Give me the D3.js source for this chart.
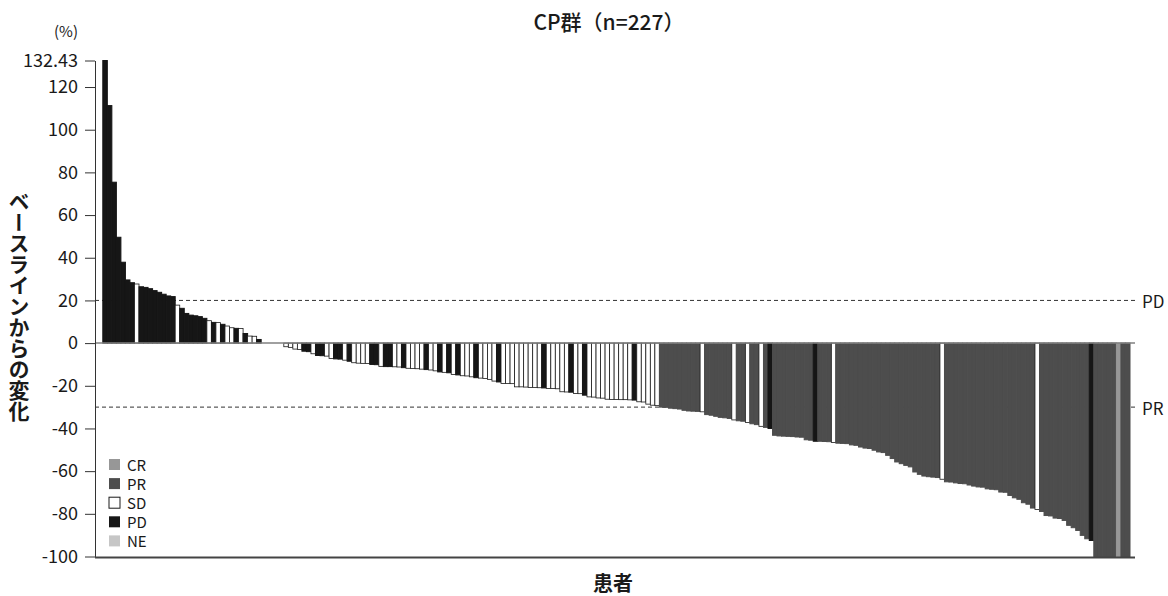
<!DOCTYPE html>
<html>
<head>
<meta charset="utf-8">
<script src="https://cdn.jsdelivr.net/npm/d3@7"></script>
<style>
  body { margin: 0; background: #ffffff; }
  svg text { font-family: "Noto Sans CJK JP", "Noto Sans", sans-serif; fill: #1a1a1a; }
</style>
</head>
<body>
<svg id="chart" width="1168" height="596"></svg>
<script>
// ---- data -------------------------------------------------------------
const chartTitle = "CP群（n=227）";
const yAxisTitle = "ベースラインからの変化";
const xAxisTitle = "患者";
const unitLabel = "(%)";

const yTickValues = [132.43, 120, 100, 80, 60, 40, 20, 0, -20, -40, -60, -80, -100];
const yTickLabels = ["132.43", "120", "100", "80", "60", "40", "20", "0", "-20", "-40", "-60", "-80", "-100"];

const legendCodes  = ["CR", "PR", "SD", "PD", "NE"];
const legendColors = ["#979797", "#4d4d4d", "#ffffff", "#161616", "#c6c6c6"];

const thresholdValues = [20, -30];
const thresholdLabels = ["PD", "PR"];

// best change from baseline in target lesions (%), one value per patient, sorted
const changeValues = [
  132.43, 111.3, 75.4, 49.6, 37.9, 29.6, 28.3, 27.7, 26.4, 26.1,
  25.5, 24.6, 23.8, 22.9, 22.1, 21.8, 17.8, 16.3, 13.9, 13.1,
  12.8, 12.4, 11.6, 10.5, 9.7, 9.6, 8.8, 8.0, 7.2, 6.9,
  6.8, 4.5, 3.3, 3.2, 1.7, 0, 0, 0, 0, 0,
  -1.7, -2.0, -2.8, -3.0, -3.8, -4.0, -5.0, -5.8, -5.9, -6.1,
  -7.2, -7.4, -7.5, -8.0, -8.5, -9.2, -9.4, -9.5, -9.6, -10.0,
  -10.1, -10.9, -11.0, -11.0, -11.1, -11.2, -11.5, -11.8, -11.9, -12.0,
  -12.2, -12.4, -12.6, -13.0, -13.5, -13.7, -13.9, -14.7, -14.9, -15.3,
  -15.4, -15.8, -16.2, -16.4, -16.6, -17.0, -17.8, -18.2, -18.9, -18.9,
  -19.0, -20.5, -20.5, -20.6, -20.8, -20.8, -20.9, -21.0, -21.3, -21.3,
  -21.4, -22.8, -22.9, -23.0, -23.6, -23.7, -24.4, -25.2, -25.3, -25.7,
  -25.8, -26.3, -26.4, -26.4, -26.5, -26.5, -26.6, -26.7, -27.5, -27.6,
  -28.6, -29.1, -29.3, -30.0, -30.1, -30.5, -30.7, -30.9, -31.5, -31.8,
  -31.9, -32.0, -32.2, -33.5, -33.8, -34.3, -34.8, -35.0, -35.3, -36.0,
  -36.4, -36.6, -37.2, -37.8, -38.2, -39.0, -39.5, -40.0, -43.2, -43.5,
  -43.6, -43.7, -43.8, -44.0, -44.1, -45.3, -45.5, -46.0, -46.0, -46.1,
  -46.2, -46.6, -46.9, -47.0, -47.1, -47.7, -47.9, -48.7, -49.2, -49.4,
  -50.2, -51.0, -51.3, -52.6, -54.1, -55.7, -56.5, -57.3, -58.0, -60.4,
  -61.5, -62.3, -62.6, -62.8, -63.0, -63.8, -65.0, -65.1, -65.5, -65.8,
  -65.9, -66.5, -67.0, -67.4, -67.5, -68.3, -68.5, -68.7, -69.8, -69.9,
  -71.4, -72.5, -73.2, -74.8, -75.5, -77.3, -78.0, -78.9, -80.8, -81.0,
  -82.0, -82.2, -83.1, -85.4, -86.5, -87.8, -90.1, -91.7, -92.5, -100,
  -100, -100, -100, -100, -100, -100, -100
];

// best overall response per patient: C=CR, R=PR, S=SD, P=PD, N=NE (10 per row)
const responseRows = [
  "PPPPPPPSPP", "PPPPPPSPPP", "PPPSPSPSSP", "SPSSPSSSSS",
  "SSSSPPSPPS", "SPPSPSSSSP", "PSPPSSPSSS", "SPSSPSPSPS",
  "SSPSSSSPSS", "SSSSSSSPSS", "SSSPSSPSSS", "SSSSSSSPSS",
  "SSSRRRRRRR", "RRSRRRRRRS", "RRSRRSRPRR", "RRRRRRRPRR",
  "RSRRRRRRRR", "RRRRRRRRRR", "RRRRRSRRRR", "RRRRRRRRRR",
  "RRRRRRSRRR", "RRRRRRRRPR", "RRRRCRR"
];
const codeToResponse = { C: "CR", R: "PR", S: "SD", P: "PD", N: "NE" };
const responses = responseRows.join("").split("").map(c => codeToResponse[c]);

// ---- drawing ----------------------------------------------------------
const svg = d3.select("#chart");
const plotLeft = 95, plotRight = 1136;
const patients = d3.range(changeValues.length);

const color = d3.scaleOrdinal().domain(legendCodes).range(legendColors);

const x = d3.scaleBand().domain(patients).range([102.8, 1130]).padding(0);
const y = d3.scaleLinear().domain([-100, 132.43]).range([556.5, 60.5]);

// threshold reference lines (behind the bars)
svg.append("g").selectAll("line")
  .data(thresholdValues)
  .join("line")
  .attr("x1", plotLeft).attr("x2", plotRight)
  .attr("y1", d => y(d)).attr("y2", d => y(d))
  .attr("stroke", "#333").attr("stroke-width", 1)
  .attr("stroke-dasharray", "4,3");

svg.append("g").selectAll("text")
  .data(thresholdValues)
  .join("text")
  .attr("x", 1142).attr("y", d => y(d))
  .attr("dominant-baseline", "central")
  .attr("font-size", 17)
  .text((d, i) => thresholdLabels[i]);

// bars: filled bars get an outline in their own colour so neighbours merge,
// SD bars are white with a dark outline
const data = patients.map(i => ({ i, v: changeValues[i], r: responses[i] }));
svg.append("g").selectAll("rect")
  .data(data)
  .join("rect")
  .attr("x", d => x(d.i))
  .attr("width", x.bandwidth())
  .attr("y", d => y(Math.max(0, d.v)))
  .attr("height", d => Math.abs(y(d.v) - y(0)))
  .attr("fill", d => color(d.r))
  .attr("stroke", d => d.r === "SD" ? "#1a1a1a" : color(d.r))
  .attr("stroke-width", d => d.r === "SD" ? 0.8 : 1);

// zero line
svg.append("line")
  .attr("x1", plotLeft).attr("x2", 1135)
  .attr("y1", y(0)).attr("y2", y(0))
  .attr("stroke", "#808080").attr("stroke-width", 1.5);

// y axis
const yAxis = svg.append("g")
  .attr("transform", `translate(${plotLeft},0)`)
  .call(d3.axisLeft(y)
    .tickValues(yTickValues)
    .tickFormat((d, i) => yTickLabels[i])
    .tickSize(10).tickSizeOuter(0).tickPadding(7));
yAxis.select(".domain").attr("stroke", "#333");
yAxis.selectAll(".tick line").attr("stroke", "#333");
yAxis.selectAll(".tick text")
  .attr("font-size", 18)
  .attr("font-family", "\"Noto Sans CJK JP\", sans-serif")
  .attr("fill", "#1a1a1a");

// bottom axis line
svg.append("line")
  .attr("x1", plotLeft).attr("x2", 1135)
  .attr("y1", 557.5).attr("y2", 557.5)
  .attr("stroke", "#444").attr("stroke-width", 2);

// titles
svg.append("text")
  .attr("x", 609).attr("y", 30)
  .attr("text-anchor", "middle")
  .attr("font-size", 21).attr("font-weight", 500)
  .text(chartTitle);

svg.append("text")
  .attr("x", 66).attr("y", 37)
  .attr("text-anchor", "middle")
  .attr("font-size", 15)
  .text(unitLabel);

svg.append("text")
  .attr("x", 613).attr("y", 591)
  .attr("text-anchor", "middle")
  .attr("font-size", 20).attr("font-weight", 700)
  .text(xAxisTitle);

svg.append("text")
  .attr("x", 19).attr("y", 306)
  .attr("text-anchor", "middle")
  .style("writing-mode", "vertical-rl")
  .style("text-orientation", "upright")
  .attr("font-size", 21).attr("font-weight", 700)
  .text(yAxisTitle);

// legend
const legend = svg.append("g").attr("transform", "translate(109,464.5)");
const rows = legend.selectAll("g")
  .data(legendCodes)
  .join("g")
  .attr("transform", (d, i) => `translate(0,${i * 19.1})`);
rows.append("rect")
  .attr("x", 0).attr("y", -5.5).attr("width", 11).attr("height", 11)
  .attr("fill", d => color(d))
  .attr("stroke", d => d === "SD" ? "#1a1a1a" : "none")
  .attr("stroke-width", 1);
rows.append("text")
  .attr("x", 18).attr("y", 0)
  .attr("dominant-baseline", "central")
  .attr("font-size", 15)
  .text(d => d);
</script>
</body>
</html>
